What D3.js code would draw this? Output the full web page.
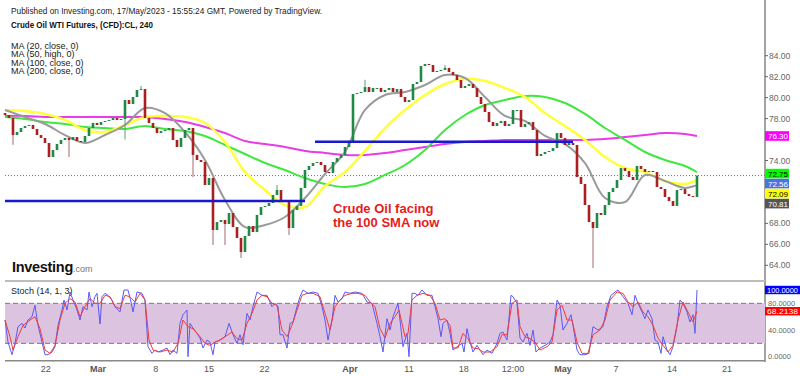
<!DOCTYPE html>
<html>
<head>
<meta charset="utf-8">
<script src="https://cdn.jsdelivr.net/npm/d3@7"></script>
<style>
  body { margin: 0; background: #fff; }
  svg { display: block; font-family: "Liberation Sans", Arial, sans-serif; }
</style>
</head>
<body>
<div id="chart"></div>
<script>
// 4h candles, closes (open = previous close)
const firstOpen = 78.53;
const closes = [
  78.34,78.06,76.43,76.72,77.10,77.29,77.39,77.01,76.43,76.15,
  75.67,74.33,75.00,75.57,75.96,76.15,75.96,76.24,75.86,75.77,
  76.34,77.10,77.58,77.39,77.67,77.77,77.87,78.06,77.87,77.96,
  79.77,79.39,80.06,80.73,80.82,78.06,77.58,77.10,76.62,76.81,
  76.91,77.10,75.96,75.29,76.15,76.91,77.10,74.53,74.05,73.86,
  71.66,72.33,67.37,68.13,68.32,67.94,68.99,67.65,66.61,65.27,
  66.80,67.75,67.18,68.80,69.56,69.66,69.94,70.71,71.18,70.04,
  70.23,67.56,69.28,69.66,71.38,73.09,73.48,73.76,73.86,73.57,
  72.90,72.81,73.86,74.24,74.53,75.29,75.77,80.35,80.44,80.54,
  81.01,80.54,80.92,80.92,80.54,80.73,80.92,80.54,80.82,80.06,
  79.58,79.77,81.30,81.49,83.02,83.21,83.11,82.45,82.54,82.64,
  82.83,82.45,82.16,81.68,80.92,81.11,81.30,80.92,80.06,79.39,
  78.63,77.67,77.29,77.58,77.77,77.29,77.48,78.82,78.82,77.20,
  77.48,77.67,76.91,74.43,74.62,74.81,74.91,75.19,76.62,76.15,
  75.48,75.67,75.48,72.43,71.76,69.75,68.13,67.56,68.99,68.80,
  69.75,70.99,71.38,72.14,73.28,73.00,72.43,72.14,73.48,73.19,
  72.90,73.00,72.90,71.47,71.28,70.52,70.13,69.66,71.18,71.28,
  70.80,70.61,70.52,72.56
];
// long wicks: [bar, high, low]
const wicks = [
  [2, null, 75.5], [16, null, 74.33], [30, null, 76.0], [34, 81.11, null],
  [47, null, 72.43], [52, null, 65.94], [55, null, 65.94], [59, null, 64.70],
  [68, 71.66, null], [71, null, 66.89], [90, 81.70, null], [110, 83.11, null],
  [147, null, 63.74], [148, null, 68.1]
];

// moving averages, sampled every 5 bars
const maBars = [0,5,10,15,20,25,30,35,40,45,50,55,60,65,70,75,80,85,90,95,100,105,110,115,120,125,130,135,140,145,150,155,160,165,170,173];
const ma20 = [78.82,78.15,77.48,76.43,75.67,76.43,77.39,79.01,78.53,76.72,74.05,70.23,67.65,67.85,68.61,70.42,72.71,74.81,78.82,80.25,80.54,81.20,82.16,81.87,80.06,78.25,77.77,76.34,75.57,73.76,70.42,70.04,72.62,72.04,71.38,71.66];
const ma50 = [78.82,78.72,78.44,77.87,76.91,76.72,77.39,78.15,78.25,78.15,77.58,75.77,72.90,71.18,69.75,69.56,71.57,72.90,74.91,77.10,78.82,80.25,81.30,81.78,81.59,80.92,80.06,78.53,77.29,75.96,74.33,73.28,72.90,72.04,71.76,72.14];
const ma100 = [78.15,77.96,77.67,77.48,77.20,77.10,77.01,77.29,77.01,76.81,76.34,75.48,74.62,73.76,73.09,72.33,71.76,71.47,71.76,72.62,73.57,75.00,76.91,78.34,79.30,79.77,80.16,80.06,79.49,78.44,77.10,75.96,74.81,74.05,73.48,72.90];
const ma200 = [78.25,78.25,78.15,78.15,78.15,78.15,78.15,78.15,77.96,77.67,77.20,76.62,75.86,75.57,75.29,74.91,74.72,74.53,74.53,74.72,75.00,75.29,75.57,75.77,75.86,75.96,75.96,75.96,75.96,75.96,76.05,76.24,76.43,76.62,76.53,76.34];

const maNames = ["MA (20, close, 0)", "MA (50, high, 0)", "MA (100, close, 0)", "MA (200, close, 0)"];

// stochastic (14, 1, 3): [bar, value]
const stochK = [
  [0,55],[0.75,22],[1.75,3],[2.5,20],[3.25,45],[4.25,50],[5,43],[5.75,55],[6.75,60],[7.5,77],
  [8.25,47],[9.25,22],[10,3],[10.75,3],[11.75,7],[12.5,15],[13.25,47],[14.25,70],[14.75,85],[15.5,70],
  [16.25,97],[17,85],[18,70],[18.75,55],[19.5,75],[20.5,70],[21,97],[21.75,75],[22.5,90],[23,95],
  [23.75,49],[24.25,90],[25,95],[25.75,92],[26.75,85],[27.5,75],[28.75,67],[29.75,100],[30.75,100],[31.5,82],
  [32,67],[33,97],[34.25,95],[35,85],[35.75,15],[36.75,5],[37.5,10],[38.25,7],[39.5,10],[40.5,13],
  [41.25,3],[42,10],[43,5],[43.75,50],[44.5,63],[45.5,70],[45.75,0],[46.25,50],[47,43],[48,35],
  [48.75,28],[49.5,13],[50.5,25],[51.25,22],[52,3],[52.5,22],[53.75,25],[55,30],[56,50],[57,33],
  [58,20],[58.75,33],[59.5,18],[60.5,65],[61.25,55],[62,75],[63,97],[64.25,92],[65.5,92],[66.75,75],
  [67.5,80],[68.25,75],[68.75,33],[69.5,33],[70.5,13],[71.25,50],[72,52],[73,75],[73.75,90],[74.5,100],
  [75.75,95],[77,97],[78.25,95],[79.25,75],[80,55],[80.75,25],[81.75,55],[82.5,92],[83.25,82],[84.25,87],
  [85,97],[86.25,95],[87.5,97],[89.25,95],[90.5,82],[91.75,80],[93,50],[93.75,30],[94.5,7],[95.5,57],
  [96.25,40],[97,60],[98.25,80],[98.75,55],[99.5,15],[100.5,35],[101,0],[101.75,95],[102.5,95],[103.25,92],
  [104.25,100],[105.5,92],[106.75,92],[107.5,75],[108.25,57],[109,30],[109.5,50],[110.5,55],[111.25,35],[112,10],
  [113,15],[114.25,20],[114.75,7],[115.5,42],[116.25,22],[117,7],[118,17],[118.75,10],[119.5,3],[120.5,10],
  [121.75,5],[123,20],[123.75,35],[124.5,37],[125.5,25],[126.5,92],[127,90],[128,80],[128.75,28],[129.5,22],
  [130.5,35],[131.25,17],[132,40],[132.75,7],[133.75,13],[135,17],[136.25,22],[137,33],[138,85],[138.75,77],
  [139.5,40],[140.5,50],[141.5,63],[142,47],[143,10],[143.75,3],[145,3],[146,5],[147,45],[148.25,40],
  [149.5,45],[150.5,75],[151.5,92],[152.5,97],[153.25,100],[154.5,90],[155.75,80],[156.75,63],[157.5,92],[158.25,80],
  [159.25,67],[160,57],[160.75,70],[161.75,57],[162.5,25],[163.25,22],[164,5],[164.5,30],[165.5,10],[166.25,3],
  [167,15],[168,45],[168.75,85],[169.5,80],[170.5,67],[171.25,52],[172,63],[172.5,35],[173,100]
];
const stochD = [
  [0,55],[1.25,30],[2,10],[3.25,30],[4.5,47],[6.25,55],[7.5,60],[8.75,42],[10,10],[11.25,5],
  [12.5,17],[13.75,55],[15,80],[16.25,87],[17.5,82],[18.75,60],[20,75],[21.25,87],[22.5,80],[23.75,80],
  [25,92],[26.25,90],[27.5,75],[28.75,72],[30,92],[31.25,90],[32.5,82],[33.75,95],[35,85],[36,25],
  [37,10],[38.75,7],[40.5,10],[42,7],[43.25,20],[44.5,55],[45.75,45],[47,42],[48.75,30],[50,20],
  [51.25,17],[52.5,22],[53.75,25],[55.5,32],[56.75,37],[58,27],[59.25,25],[60.5,50],[61.75,65],[63,85],
  [64.25,92],[65.5,90],[66.75,80],[68,77],[69.25,40],[70.5,30],[71.75,47],[73,70],[74.25,92],[75.5,95],
  [77,95],[78.75,90],[80,65],[81.25,40],[82.5,75],[83.75,85],[85,92],[86.75,95],[88.25,95],[90,92],
  [91.25,82],[92.5,75],[93.75,42],[95,28],[96.25,50],[97.5,60],[98.5,70],[99.25,50],[100,30],[100.75,35],
  [101.75,85],[103,92],[104.5,95],[106.25,92],[107.5,80],[108.75,55],[110,57],[111.25,47],[112,13],[113.25,13],
  [114.5,35],[115.75,27],[117,13],[118.25,12],[119.5,7],[121.25,7],[123,15],[124.25,33],[125.5,33],[126.75,80],
  [128,85],[128.75,45],[130,30],[131.25,27],[132.5,22],[133.75,10],[135.5,15],[136.75,22],[138,70],[139.25,77],
  [140.5,55],[141.75,55],[143,22],[144.25,5],[145.75,5],[147,33],[148.75,40],[150,55],[151.25,85],[153,97],
  [154.5,95],[155.75,82],[157,75],[158.25,82],[159.5,67],[160.75,60],[162,47],[163.25,28],[164.5,17],[165.75,7],
  [167,17],[168.25,55],[169.5,82],[170.75,67],[172,52],[173,68.2138]
];

// axis labels (the ones the value boxes hide are left out, as in the picture)
const priceTicks = [64, 66, 68, 70, 72, 74, 76, 78, 80, 82, 84];
const priceLabels = [64, 66, 68, 74, 78, 80, 82, 84];
const stochTicks = [0, 40, 80];
const dateTicks = [10.2, 23.25, 37.7, 51, 64.9, 86.25, 101, 114.7, 127, 139.5, 152.75, 166.75, 180.5];
const dateLabels = ["22", "Mar", "8", "15", "22", "Apr", "11", "18", "12:00", "May", "7", "14", "21"];

// drawn support / resistance lines
const levels = [
  { from: 0, to: 75, price: 70.14 },
  { from: 77.5, to: 142, price: 75.79 }
];
const lastPrice = 72.56;
const priceBoxes = [
  { value: 72.75, fill: "#00ff00", text: "#000" },
  { value: 72.56, fill: "#4a72e0", text: "#fff" },
  { value: 72.09, fill: "#ffff00", text: "#000" },
  { value: 70.81, fill: "#555555", text: "#fff" }
];

function drawChart() {
  const width = 800, height = 376;
  const axisX = 765;

  const svg = d3.select("#chart").append("svg")
    .attr("width", width)
    .attr("height", height);

  const x = d3.scaleLinear().domain([0, closes.length - 1]).range([5, 697]);
  const y = d3.scaleLinear().domain([64, 84]).range([265.3, 55.7]);
  const ys = d3.scaleLinear().domain([0, 100]).range([356.7, 290]);

  // header
  svg.append("text").attr("x", 11).attr("y", 14)
    .attr("font-size", 9.5).attr("fill", "#222")
    .attr("textLength", 311).attr("lengthAdjust", "spacingAndGlyphs")
    .text("Published on Investing.com, 17/May/2023 - 15:55:24 GMT, Powered by TradingView.");
  svg.append("text").attr("x", 11).attr("y", 28)
    .attr("font-size", 9.5).attr("font-weight", "bold").attr("fill", "#111")
    .attr("textLength", 142).attr("lengthAdjust", "spacingAndGlyphs")
    .text("Crude Oil WTI Futures, (CFD):CL, 240");
  svg.selectAll(".maname").data(maNames).enter().append("text")
    .attr("x", 11).attr("y", (d, i) => 48.5 + i * 8.5)
    .attr("font-size", 9).attr("fill", "#222")
    .text(d => d);

  // current price dotted line
  svg.append("line")
    .attr("x1", 5).attr("x2", axisX)
    .attr("y1", y(lastPrice)).attr("y2", y(lastPrice))
    .attr("stroke", "#4a6fd8").attr("stroke-width", 1)
    .attr("stroke-dasharray", "1,2");

  // moving averages
  const maLine = vals => d3.line()
    .x((d, i) => x(maBars[i]))
    .y(d => y(d))
    .curve(d3.curveCatmullRom)(vals);
  const maStyles = [
    [ma200, "#e83ce8", 2],
    [ma100, "#3fe83f", 2],
    [ma50, "#ffff3a", 2.5],
    [ma20, "#9a9a9a", 2]
  ];
  maStyles.forEach(s => {
    svg.append("path").attr("d", maLine(s[0]))
      .attr("fill", "none").attr("stroke", s[1])
      .attr("stroke-width", s[2]).attr("stroke-linejoin", "round");
  });

  // candles
  const candles = closes.map((c, i) => {
    const o = i === 0 ? firstOpen : closes[i - 1];
    return { i: i, o: o, c: c, h: Math.max(o, c), l: Math.min(o, c) };
  });
  wicks.forEach(w => {
    if (w[1] !== null) candles[w[0]].h = w[1];
    if (w[2] !== null) candles[w[0]].l = w[2];
  });
  const up = "#1f8a46", down = "#a82020";
  const g = svg.append("g");
  g.selectAll(".wick").data(candles).enter().append("line")
    .attr("x1", d => x(d.i)).attr("x2", d => x(d.i))
    .attr("y1", d => y(d.h)).attr("y2", d => y(d.l))
    .attr("stroke", d => d.c >= d.o ? "#5a9e72" : "#9e6a6a")
    .attr("stroke-width", 1);
  g.selectAll(".body").data(candles).enter().append("rect")
    .attr("x", d => x(d.i) - 1.3)
    .attr("width", 2.6)
    .attr("y", d => y(Math.max(d.o, d.c)))
    .attr("height", d => Math.max(1, Math.abs(y(d.o) - y(d.c))))
    .attr("fill", d => d.c >= d.o ? up : down);

  // blue horizontal levels
  levels.forEach(l => {
    svg.append("line")
      .attr("x1", x(l.from)).attr("x2", x(l.to))
      .attr("y1", y(l.price)).attr("y2", y(l.price))
      .attr("stroke", "#1818d0").attr("stroke-width", 2.6);
  });

  // annotation
  svg.append("text").attr("x", 333).attr("y", 213.3)
    .attr("font-size", 13).attr("font-weight", "bold").attr("fill", "#e61c1c")
    .text("Crude Oil facing");
  svg.append("text").attr("x", 333).attr("y", 227.3)
    .attr("font-size", 13).attr("font-weight", "bold").attr("fill", "#e61c1c")
    .text("the 100 SMA now");

  // Investing logo
  const logo = svg.append("text").attr("x", 12).attr("y", 272);
  logo.append("tspan").attr("font-size", 14.5).attr("font-weight", "bold")
    .attr("fill", "#111").attr("letter-spacing", -0.3).text("Investing");
  logo.append("tspan").attr("font-size", 9).attr("fill", "#777").text(".com");

  // right price axis
  svg.append("line").attr("x1", axisX).attr("x2", axisX)
    .attr("y1", 0).attr("y2", 362)
    .attr("stroke", "#666").attr("stroke-width", 1.2);
  svg.selectAll(".ptick").data(priceTicks).enter().append("line")
    .attr("x1", axisX).attr("x2", axisX + 3)
    .attr("y1", d => y(d)).attr("y2", d => y(d))
    .attr("stroke", "#666");
  svg.selectAll(".plabel").data(priceLabels).enter().append("text")
    .attr("x", axisX + 4).attr("y", d => y(d) + 3)
    .attr("font-size", 8.5).attr("fill", "#666")
    .text(d => d.toFixed(2));

  // value boxes
  const boxH = 9.6;
  const magY = y(ma200[ma200.length - 1]);
  svg.append("rect").attr("x", axisX).attr("y", magY - boxH / 2)
    .attr("width", 24).attr("height", boxH).attr("fill", "#ff00ff");
  svg.append("text").attr("x", axisX + 3).attr("y", magY + 3)
    .attr("font-size", 8).attr("fill", "#fff").text("76.30");
  let prevY = -Infinity;
  priceBoxes.forEach(b => {
    const cy = Math.max(y(b.value), prevY + boxH + 0.4);
    prevY = cy;
    svg.append("rect").attr("x", axisX).attr("y", cy - boxH / 2)
      .attr("width", 24).attr("height", boxH).attr("fill", b.fill);
    svg.append("text").attr("x", axisX + 3).attr("y", cy + 3)
      .attr("font-size", 8).attr("fill", b.text).text(b.value.toFixed(2));
  });

  // stochastic panel
  svg.append("line").attr("x1", 5).attr("x2", axisX)
    .attr("y1", 281).attr("y2", 281)
    .attr("stroke", "#bdbdbd").attr("stroke-width", 2);
  svg.append("rect").attr("x", 5).attr("y", ys(80))
    .attr("width", axisX - 5).attr("height", ys(20) - ys(80))
    .attr("fill", "#dcc3df");
  [80, 20].forEach(v => {
    svg.append("line").attr("x1", 5).attr("x2", axisX)
      .attr("y1", ys(v)).attr("y2", ys(v))
      .attr("stroke", "#8a6f8a").attr("stroke-dasharray", "5,3");
  });
  svg.append("text").attr("x", 11).attr("y", 294)
    .attr("font-size", 9).attr("fill", "#222").text("Stoch (14, 1, 3)");

  const sLine = d3.line().x(d => x(d[0])).y(d => ys(d[1]));
  svg.append("path").attr("d", sLine(stochK))
    .attr("fill", "none").attr("stroke", "#5a5af5").attr("stroke-width", 1);
  svg.append("path").attr("d", sLine(stochD))
    .attr("fill", "none").attr("stroke", "#f03c3c").attr("stroke-width", 1);

  svg.selectAll(".stick").data(stochTicks).enter().append("text")
    .attr("x", axisX + 3).attr("y", d => ys(d) + 2.5)
    .attr("font-size", 7.5).attr("fill", "#666")
    .text(d => d.toFixed(4));
  const kLast = stochK[stochK.length - 1][1], dLast = stochD[stochD.length - 1][1];
  const sBoxH = 8.4;
  [[kLast, "#0000ff"], [dLast, "#ff0000"]].forEach(b => {
    svg.append("rect").attr("x", axisX).attr("y", ys(b[0]) - sBoxH / 2)
      .attr("width", 35).attr("height", sBoxH).attr("fill", b[1]);
    svg.append("text").attr("x", axisX + 2).attr("y", ys(b[0]) + 2.7)
      .attr("font-size", 7.5).attr("fill", "#fff")
      .attr("textLength", 31).attr("lengthAdjust", "spacingAndGlyphs")
      .text(b[0].toFixed(4));
  });

  // bottom time axis
  svg.append("line").attr("x1", 5).attr("x2", axisX)
    .attr("y1", 360.7).attr("y2", 360.7)
    .attr("stroke", "#888").attr("stroke-width", 1.5);
  svg.selectAll(".dlabel").data(dateTicks).enter().append("text")
    .attr("x", d => x(d)).attr("y", 371.5)
    .attr("text-anchor", "middle")
    .attr("font-size", 9)
    .attr("font-weight", (d, i) => /^[A-Z]/.test(dateLabels[i]) ? "bold" : "normal")
    .attr("fill", "#555")
    .text((d, i) => dateLabels[i]);
}

drawChart();
</script>
</body>
</html>
